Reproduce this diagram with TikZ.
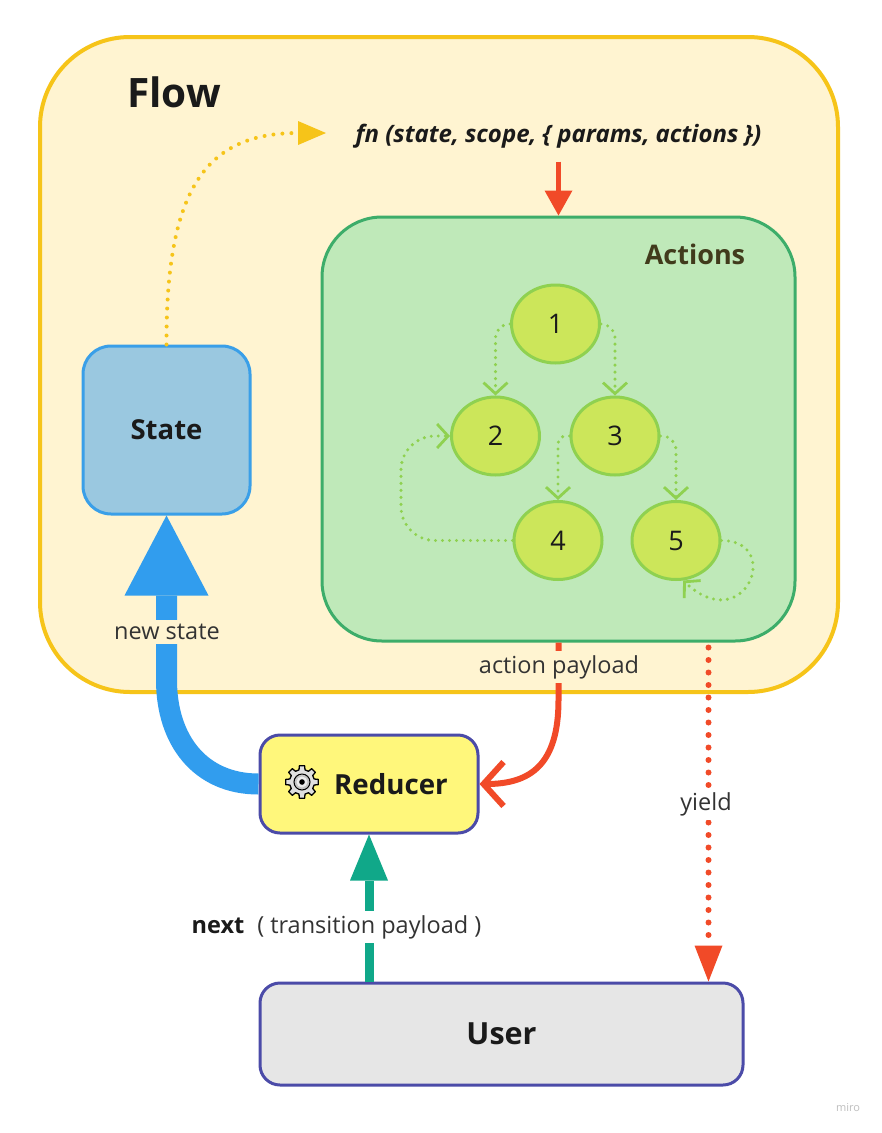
\documentclass[tikz,border=0pt]{standalone}
\usepackage{fontspec}
\setmainfont{Open Sans}
\usetikzlibrary{arrows.meta,shapes.geometric}
\definecolor{flowfill}{HTML}{FFF4D1}
\definecolor{flowline}{HTML}{F6C419}
\definecolor{actfill}{HTML}{BFE9B9}
\definecolor{actline}{HTML}{3DAD6A}
\definecolor{cfill}{HTML}{CCE65A}
\definecolor{cline}{HTML}{8FD150}
\definecolor{statefill}{HTML}{9AC8E0}
\definecolor{stateline}{HTML}{3A9FE8}
\definecolor{bluearr}{HTML}{319DEE}
\definecolor{redarr}{HTML}{F14A28}
\definecolor{redboxfill}{HTML}{FFF77B}
\definecolor{boxline}{HTML}{4B4BA8}
\definecolor{userfill}{HTML}{E6E6E6}
\definecolor{tealarr}{HTML}{10A889}
\definecolor{txt}{HTML}{1A1A1A}
\definecolor{lbltxt}{HTML}{333333}
\definecolor{acttxt}{HTML}{413B1C}
\definecolor{yelarr}{HTML}{F6C419}
\newcommand\fsz[1]{\fontsize{#1}{#1}\selectfont}
\begin{document}
\begin{tikzpicture}[x=1pt,y=-1pt,
  flowbox/.style={draw=flowline, line width=4pt, fill=flowfill, rounded corners=90pt, minimum width=798pt, minimum height=655pt, inner sep=0pt},
  actbox/.style={draw=actline, line width=3pt, fill=actfill, rounded corners=60pt, minimum width=473pt, minimum height=424pt, inner sep=0pt},
  statebox/.style={draw=stateline, line width=3pt, fill=statefill, rounded corners=28pt, minimum width=167pt, minimum height=168pt, inner sep=0pt, font=\fsz{27.5}\bfseries, text=txt},
  redbox/.style={draw=boxline, line width=3pt, fill=redboxfill, rounded corners=20pt, minimum width=218pt, minimum height=98pt, inner sep=0pt, font=\fsz{27.7}\bfseries, text=txt},
  userbox/.style={draw=boxline, line width=3pt, fill=userfill, rounded corners=20pt, minimum width=483pt, minimum height=102pt, inner sep=0pt, font=\fsz{30.5}\bfseries, text=txt},
  act/.style={ellipse, draw=cline, line width=3pt, fill=cfill, minimum width=88pt, minimum height=78pt, inner sep=0pt, font=\fsz{27}, text=txt},
  lbl/.style={font=\fsz{23.5}, text=lbltxt, inner sep=4pt},
  gdot/.style={draw=cline, line width=3.4pt, dash pattern=on 0pt off 7pt, line cap=round, rounded corners=14pt, -{Straight Barb[length=11pt,width=24pt,line width=2.8pt]}},
  ydot/.style={draw=yelarr, line width=4pt, dash pattern=on 0pt off 9pt, line cap=round, -{Triangle[length=28pt,width=24pt,line width=0pt]}},
  redsolid/.style={draw=redarr, line width=5pt, -{Triangle[length=25pt,width=28pt,line width=0pt]}},
  bluearrow/.style={draw=bluearr, line width=21pt, -{Triangle[length=80pt,width=84pt,line width=0pt]}},
  redbarb/.style={draw=redarr, line width=6pt, -{Straight Barb[length=20pt,width=44pt]}},
  reddot/.style={draw=redarr, line width=6pt, dash pattern=on 0pt off 12.5pt, line cap=round, -{Triangle[length=36pt,width=28pt,line width=0pt]}},
  tealarrow/.style={draw=tealarr, line width=9pt, -{Triangle[length=46pt,width=38pt,line width=0pt]}}
]
\useasboundingbox (0,0) rectangle (882,1133);
\fill[white] (0,0) rectangle (882,1133);

% containers
\node[flowbox] (flow) at (439,364.5) {};
\node[font=\fsz{40.5}\bfseries, text=txt] (flowlbl) at (174,92) {Flow};
\node[font=\fsz{24}\bfseries\itshape, text=txt] (fn) at (558.5,136) {fn (state, scope, \{ params, actions \})};
\node[actbox] (acts) at (558.5,429) {};
\node[font=\fsz{27}\bfseries, text=acttxt] (actlbl) at (695,254) {Actions};
\node[statebox] (state) at (166.5,430) {State};

% action nodes
\node[act] (n1) at (555.5,324) {1};
\node[act] (n2) at (495.5,436) {2};
\node[act] (n3) at (615,436) {3};
\node[act] (n4) at (558,540.5) {4};
\node[act] (n5) at (676,540.5) {5};

% reducer and user
\node[redbox] (reducer) at (369,784) {\hspace{44pt}Reducer};
\node[userbox] (user) at (501.5,1034) {User};

% gear icon
\begin{scope}[shift={(302,782)}]
  \draw[fill=gray!25, line width=1.3pt, line join=round] (-14:12.5)
    \foreach \b in {0,45,...,315} { -- (\b-14:12.5) -- (\b-9:16.5) -- (\b+9:16.5) -- (\b+14:12.5) } -- cycle;
  \draw[fill=gray!45, line width=1pt] (0,0) circle (8);
  \fill[gray!15] (0,0) circle (5.5);
  \fill[black] (0,0) circle (2.8);
\end{scope}

% arrows between actions
\draw[gdot] (n1.west) -| (n2.north);
\draw[gdot] (n1.east) -| (n3.north);
\draw[gdot, rounded corners=8pt] (n3.west) -| (n4.north);
\draw[gdot] (n3.east) -| (n5.north);
\draw[gdot, rounded corners=34pt] (n4.west) -| ([xshift=-49pt]n2.west) -- (n2.west);
\draw[gdot, rounded corners=0pt] (n5.east) .. controls +(62,0) and +(62,58) .. (n5.-80);

% main connectors
\coordinate (fnarrow) at (326,133);
\draw[ydot] (state.north) .. controls (166,190) and (205,133) .. (fnarrow);
\draw[redsolid] ([yshift=-10pt]fn.south) -- (acts.north);
\coordinate (bend) at (166.5,680);
\draw[bluearrow] (reducer.west) .. controls (200,784) and (166.5,740) .. (bend) -- (state.south);
\coordinate (pbend) at (558.5,700);
\draw[redbarb] (acts.south) -- (pbend) .. controls (558.5,765) and (530,784) .. (reducer.east);
\draw[reddot] ([xshift=150pt,yshift=-5pt]acts.south) -- ([xshift=150pt]acts.south |- user.north);
\draw[tealarrow] (user.north -| reducer.south) -- (reducer.south);

% labels
\node[lbl, fill=flowfill] (nslbl) at (167,632) {new state};
\node[lbl, fill=flowfill] (aplbl) at (559,667) {action payload};
\node[lbl, fill=white] (ylbl) at (706,804) {yield};
\node[lbl, fill=white] (nxlbl) at (336.5,927) {\textbf{\color{txt}next}\hspace{0.55em}( transition payload )};

\node[font=\fsz{11}, text=gray!50] (miro) at (848,1108) {miro};
\end{tikzpicture}
\end{document}
